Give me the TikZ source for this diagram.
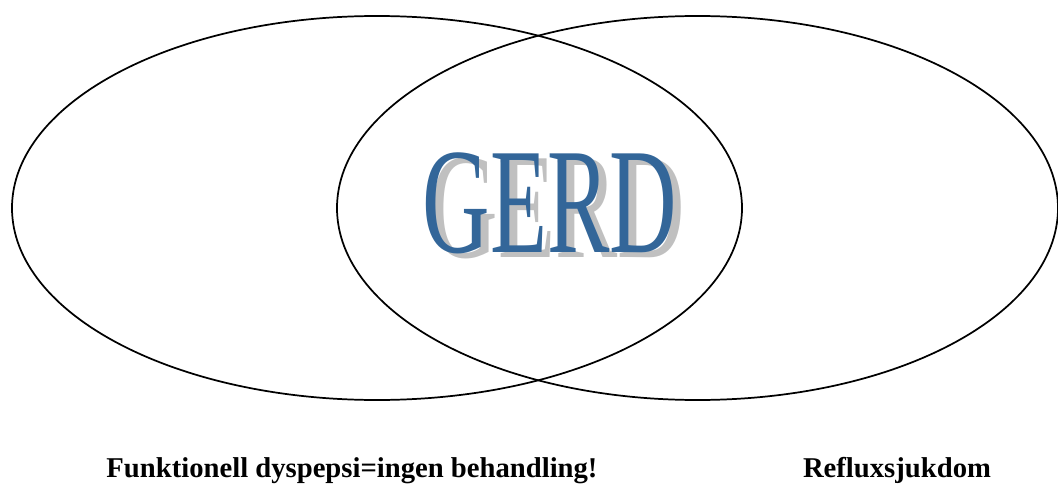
\documentclass[tikz,border=0pt]{standalone}
\usepackage{fontspec}
\usetikzlibrary{shapes.geometric}
\setmainfont{Liberation Serif}
\definecolor{gerdblue}{RGB}{51,102,153}
\definecolor{gerdshadow}{RGB}{192,192,192}
\tikzset{
  venn/.style={draw=black, line width=1.3pt, ellipse, inner sep=0pt},
  gerdtxt/.style={inner sep=0pt, font=\fontsize{113}{113}\selectfont, xscale=0.62},
  labeltxt/.style={inner sep=0pt, font=\bfseries\fontsize{21.5}{25}\selectfont, anchor=base}
}
\newcommand{\shadowword}[1]{\makebox[0pt][l]{\hspace{9.5pt}\raisebox{-3.8pt}{\textcolor{gerdshadow}{#1}}}\textcolor{gerdblue}{#1}}
\begin{document}
\begin{tikzpicture}[x=0.75pt,y=-0.75pt]
\useasboundingbox (0,0) rectangle (1058,485);
\node[venn, minimum width=547.5pt, minimum height=288pt] (left) at (377,208) {};
\node[venn, minimum width=540.75pt, minimum height=288pt] (right) at (697.5,208) {};
\node[gerdtxt] (gerd) at (550,206) {\shadowword{GERD}};
\node[labeltxt] (fd) at (352,477) {Funktionell dyspepsi=ingen behandling!};
\node[labeltxt] (rs) at (897,477) {Refluxsjukdom};
\end{tikzpicture}
\end{document}
